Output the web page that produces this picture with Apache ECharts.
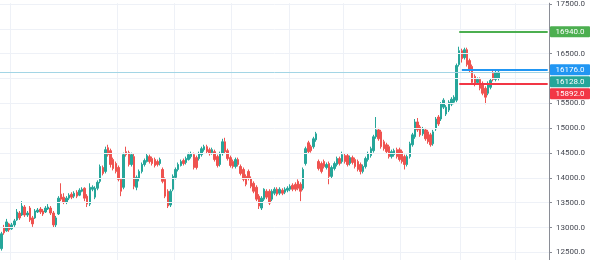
<!DOCTYPE html>
<html><head><meta charset="utf-8">
<script src="https://cdn.jsdelivr.net/npm/echarts@6/dist/echarts.min.js"></script>
<style>html,body{margin:0;padding:0;background:#fff}#c{width:590px;height:260px}</style>
</head><body><div id="c"></div>
<script>
// ---- data (daily candles) ----
const opens = [
12576,12994,12934,13074,12974,13054,13154,13293,13253,13413,
13253,13393,13194,13194,13313,13373,13333,13313,13373,13393,
13293,13054,13273,13672,13612,13512,13592,13672,13632,13711,
13652,13731,13791,13632,13472,13771,13612,13791,13930,14209,
14130,14608,14548,14369,14289,14209,13970,13811,14528,14508,
14269,14428,13811,13990,14130,14269,14329,14428,14389,14369,
14329,14289,14169,13970,13731,13453,13771,14010,14169,14249,
14349,14309,14369,14428,14468,14408,14389,14468,14568,14628,
14568,14508,14528,14428,14269,14488,14727,14548,14408,14329,
14229,14369,14229,14169,14030,14130,13990,13891,13811,13632,
13393,13572,13731,13731,13572,13691,13771,13691,13751,13711,
13751,13771,13851,13871,13930,13871,13791,14289,14707,14628,
14628,14767,14329,14289,14329,14209,14289,14030,14189,14269,
14389,14329,14448,14448,14289,14408,14369,14329,14269,14130,
14229,14369,14448,14548,14827,14966,14926,14727,14667,14628,
14428,14468,14568,14568,14528,14428,14269,14428,14667,14827,
15126,15026,14887,14966,14926,14867,14687,14986,15225,15185,
15424,15285,15365,15484,15524,15564,16281,16560,16420,16580,
16361,16241,16042,15922,15982,15902,15803,15703,15823,16102,
15982,16002];
const closes = [
12875,12895,13114,12954,13054,13134,13313,13194,13433,13253,
13293,13154,13074,13333,13353,13313,13273,13393,13413,13293,
13054,13194,13592,13572,13512,13592,13652,13612,13691,13632,
13751,13771,13592,13472,13811,13811,13791,13911,14229,14090,
14568,14468,14269,14189,14130,13970,13731,14468,14468,14269,
14468,13831,14010,14130,14269,14349,14448,14329,14289,14249,
14269,14369,13930,13632,13433,13731,14030,14169,14269,14329,
14289,14389,14468,14488,14209,14209,14488,14588,14628,14528,
14488,14568,14369,14249,14488,14727,14528,14389,14249,14229,
14369,14269,14090,13970,13871,13990,13831,13731,13572,13433,
13592,13771,13612,13492,13731,13771,13672,13771,13691,13771,
13791,13831,13771,13771,13791,13731,14169,14588,14528,14548,
14787,14887,14189,14130,14229,14269,14030,14209,14289,14389,
14289,14468,14329,14269,14408,14309,14229,14169,14130,14229,
14389,14488,14588,14827,14966,14787,14628,14588,14528,14428,
14528,14548,14428,14369,14329,14269,14428,14687,14867,15126,
14966,14867,14986,14787,14727,14667,14926,15185,15086,15484,
15564,15424,15524,15584,15624,16261,16560,16400,16580,16281,
16161,15922,15882,15982,15803,15703,15624,15902,15962,15982,
16122,16128];
const lows = [
12536,12855,12914,12914,12954,13014,13134,13154,13234,13214,
13214,13114,13014,13174,13293,13273,13234,13293,13353,13253,
12994,12994,13253,13532,13472,13472,13552,13572,13592,13592,
13632,13711,13532,13413,13433,13731,13572,13751,13891,14050,
14090,14428,14209,14150,14090,13930,13632,13771,14428,14229,
14229,13771,13751,13930,14090,14229,14309,14289,14249,14209,
14229,14249,13891,13592,13393,13413,13731,13970,14130,14229,
14249,14269,14349,14389,14169,14169,14349,14428,14528,14488,
14448,14468,14329,14209,14229,14448,14488,14349,14209,14189,
14189,14229,14050,13930,13831,13950,13791,13691,13532,13373,
13353,13532,13572,13453,13532,13652,13632,13652,13652,13672,
13711,13731,13731,13731,13751,13532,13751,14249,14488,14508,
14588,14727,14150,14090,14189,14169,13871,13990,14150,14229,
14249,14289,14289,14229,14249,14269,14189,14130,14070,14090,
14189,14329,14408,14508,14787,14747,14588,14548,14488,14389,
14389,14428,14389,14329,14289,14169,14229,14389,14628,14787,
14926,14827,14847,14747,14687,14628,14647,14946,15046,15146,
15385,15245,15325,15444,15484,15524,16241,16321,16381,16241,
16122,15882,15843,15882,15763,15663,15484,15663,15783,15942,
15942,15962];
const highs = [
12914,13054,13174,13094,13094,13174,13373,13333,13532,13453,
13333,13433,13234,13373,13393,13413,13373,13433,13472,13433,
13333,13234,13632,13891,13691,13632,13691,13711,13731,13751,
13791,13811,13811,13672,13891,13851,13831,13950,14269,14249,
14628,14667,14588,14408,14329,14249,13990,14508,14628,14548,
14508,14488,14050,14169,14309,14389,14488,14468,14428,14408,
14369,14408,14209,14010,13771,13771,14070,14209,14309,14369,
14389,14428,14508,14528,14508,14448,14528,14628,14667,14667,
14608,14608,14568,14468,14528,14787,14807,14588,14448,14369,
14408,14408,14269,14209,14070,14169,14030,13930,13851,13672,
13632,13791,13771,13771,13771,13811,13811,13811,13791,13811,
13831,13871,13891,13911,13970,13911,14209,14628,14747,14667,
14827,14926,14369,14329,14369,14309,14329,14249,14329,14428,
14428,14528,14488,14488,14448,14448,14408,14369,14309,14269,
14428,14528,14628,14867,15225,15006,14966,14767,14707,14667,
14568,14588,14608,14608,14568,14468,14468,14727,14906,15185,
15205,15066,15026,15006,14966,14906,14966,15225,15265,15524,
15604,15464,15564,15624,15663,16301,16640,16600,16620,16620,
16401,16281,16082,16022,16022,15942,15843,15942,16002,16161,
16161,16161];

const lastPrice = 16128;
const levelValues = [16940, 16176, 15892];
const levelColors = ['#4caf50', '#2196f3', '#f23645'];
const levelStartBar = [176, 177, 176];
const tickValues = [12500, 13000, 13500, 14000, 14500, 15000, 15500, 16000, 16500, 17000, 17500];
const hiddenTicks = [16000, 17000];   // covered by the price tags
const axisMin = 12347, axisMax = 17516; // visible price range of the pane

// ---- layout constants ----
const SLOTS = 211;                    // bars + empty right margin
const monthBreaks = [4, 45, 67, 89, 111, 132, 154, 177, 198];
const FONT = 'Roboto, "Liberation Sans", sans-serif';

const categories = [];
for (let i = 0; i < SLOTS; i++) categories.push('b' + i);
const ohlc = opens.map((o, i) => [o, closes[i], lows[i], highs[i]]);

const mlData = [{ yAxis: lastPrice, lineStyle: { color: '#a3d5e5', width: 1, type: 'solid' } }];
levelValues.forEach((v, k) => {
  mlData.push([
    { coord: [levelStartBar[k], v], lineStyle: { color: levelColors[k], width: 2, type: 'solid' } },
    { coord: [SLOTS - 1, v] }
  ]);
});

const chart = echarts.init(document.getElementById('c'), null, { renderer: 'canvas' });
chart.setOption({
  animation: false,
  grid: { left: 0, right: 41, top: 0, bottom: 0 },
  xAxis: {
    type: 'category', data: categories, boundaryGap: true,
    axisLine: { show: false }, axisTick: { show: false }, axisLabel: { show: false },
    splitLine: { show: true, interval: (idx) => monthBreaks.includes(idx), lineStyle: { color: '#eef1f7', width: 1 } }
  },
  yAxis: {
    type: 'value', position: 'right', min: axisMin, max: axisMax,
    axisLine: { show: true, lineStyle: { color: '#8a8d96', width: 1 } },
    axisTick: { show: true, length: 3, customValues: tickValues, lineStyle: { color: '#8a8d96' } },
    axisLabel: { margin: 7, color: '#474a54', fontSize: 8, fontFamily: FONT, customValues: tickValues,
      showMinLabel: true, showMaxLabel: true,
      formatter: v => hiddenTicks.includes(v) ? '' : v.toFixed(1) },
    splitLine: { show: false }
  },
  series: [
    { // horizontal grid lines at the price ticks, drawn beneath the candles
      type: 'line', data: [], silent: true, z: 0,
      markLine: { silent: true, symbol: 'none', animation: false, label: { show: false },
        data: tickValues.map(v => ({ yAxis: v })), lineStyle: { color: '#eef1f7', width: 1, type: 'solid' } }
    },
    {
      type: 'candlestick', data: ohlc, barWidth: 2, z: 2,
      itemStyle: { color: '#26a69a', color0: '#ef5350', borderColor: '#26a69a', borderColor0: '#ef5350', borderWidth: 1 },
      markLine: { silent: true, symbol: 'none', animation: false, label: { show: false }, data: mlData }
    }
  ]
});

// ---- price tags on the axis, pushed apart when they collide ----
const tags = levelValues.map((v, k) => ({ value: v, color: levelColors[k] }));
tags.push({ value: lastPrice, color: '#26a69a' });
tags.forEach(t => { t.y = chart.convertToPixel({ yAxisIndex: 0 }, t.value); });
tags.sort((a, b) => a.y - b.y);
const H = 11, GAP = 12;
for (let i = 1; i < tags.length; i++) {
  if (tags[i].y - tags[i - 1].y < GAP) tags[i].y = tags[i - 1].y + GAP;
}
const elements = [];
tags.forEach(t => {
  elements.push({ type: 'rect', z: 100, shape: { x: 550, y: t.y - H / 2, width: 40, height: H, r: 1 }, style: { fill: t.color } });
  elements.push({ type: 'text', z: 101, x: 570, y: t.y,
    style: { text: t.value.toFixed(1), fill: '#fff', font: '8px ' + FONT, textAlign: 'center', textVerticalAlign: 'middle' } });
});
chart.setOption({ graphic: elements });
</script>
</body></html>
